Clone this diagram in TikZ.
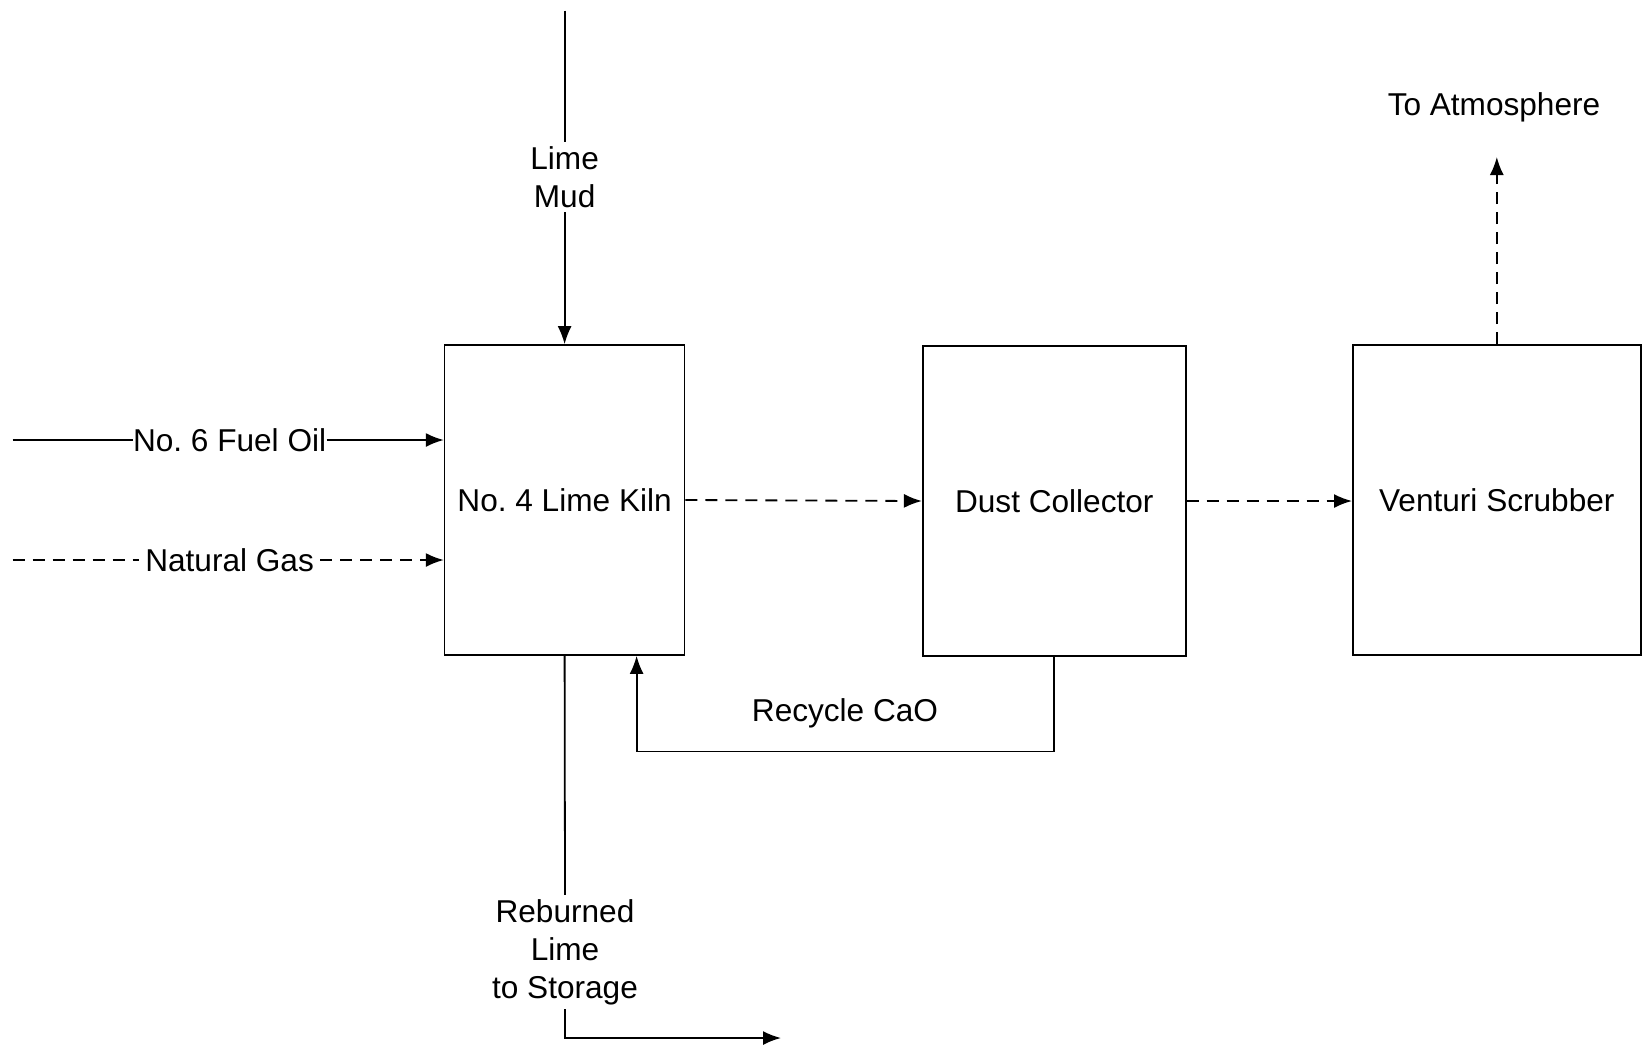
\documentclass[tikz,border=0pt]{standalone}
\usepackage{fontspec}
\setmainfont{Liberation Sans}
\usetikzlibrary{arrows.meta}
\frenchspacing
\begin{document}
\begin{tikzpicture}[
    x=0.5pt, y=-0.5pt,
    unit/.style={draw, line width=0.8pt, inner sep=0pt, align=center},
    lbl/.style={inner sep=2pt, align=center, font=\fontsize{15.8}{19}\selectfont},
    flow/.style={line width=0.9pt, -{Latex[length=9pt,width=7pt]}},
    plain/.style={line width=0.9pt},
    gas/.style={line width=0.9pt, dash pattern=on 6pt off 4pt}
]
\useasboundingbox (0,0) rectangle (1644,1051);

% jednotky
\node[unit, lbl, minimum width=120pt, minimum height=155pt] (kiln) at (564.6,500) {No. 4 Lime Kiln};
\node[unit, lbl, minimum width=131.6pt, minimum height=155pt] (dust) at (1054.3,501) {Dust Collector};
\node[unit, lbl, minimum width=144pt, minimum height=155pt] (venturi) at (1496.8,500) {Venturi Scrubber};

% popisky
\node[lbl] (mud) at (564.6,177) {Lime\\Mud};
\node[lbl, inner xsep=0pt] (oil) at (229.6,440) {No. 6 Fuel Oil};
\node[lbl, inner xsep=3pt] (ng) at (229.6,560) {Natural Gas};
\node[lbl] (atm) at (1494,107) {To Atmosphere};
\node[lbl] (cao) at (845,713) {Recycle CaO};
\node[lbl] (reb) at (565,952) {Reburned\\Lime\\to Storage};

\coordinate (mudtop) at (564.6,10.5);
\coordinate (oilin) at (12.6,440);
\coordinate (ngin) at (12.6,560);
\coordinate (atmend) at (1496.8,157);
\coordinate (store) at (781,1038);

% toky
\draw[plain] (mudtop) -- (mud);
\draw[flow] (mud) -- (kiln.north);
\draw[plain] (oilin) -- (oil.west);
\draw[flow] (oil.east) -- (kiln.west |- oil.east);
\draw[gas] (ngin) -- (ng.west);
\draw[gas, flow] (ng.east) -- (kiln.west |- ng.east);
\draw[gas, flow] (kiln.east) -- (dust.west);
\draw[gas, flow] (dust.east) -- (venturi.west |- dust.east);
\draw[gas, flow] (venturi.north) -- (atmend);

% recyklace
\draw[flow] (dust.south) -- ++(0,94.7) -| ([xshift=36pt]kiln.south);

% vypal
\draw[plain] (kiln.south) -- (reb.north);
\draw[flow] (reb.south) |- (store);
\end{tikzpicture}
\end{document}
